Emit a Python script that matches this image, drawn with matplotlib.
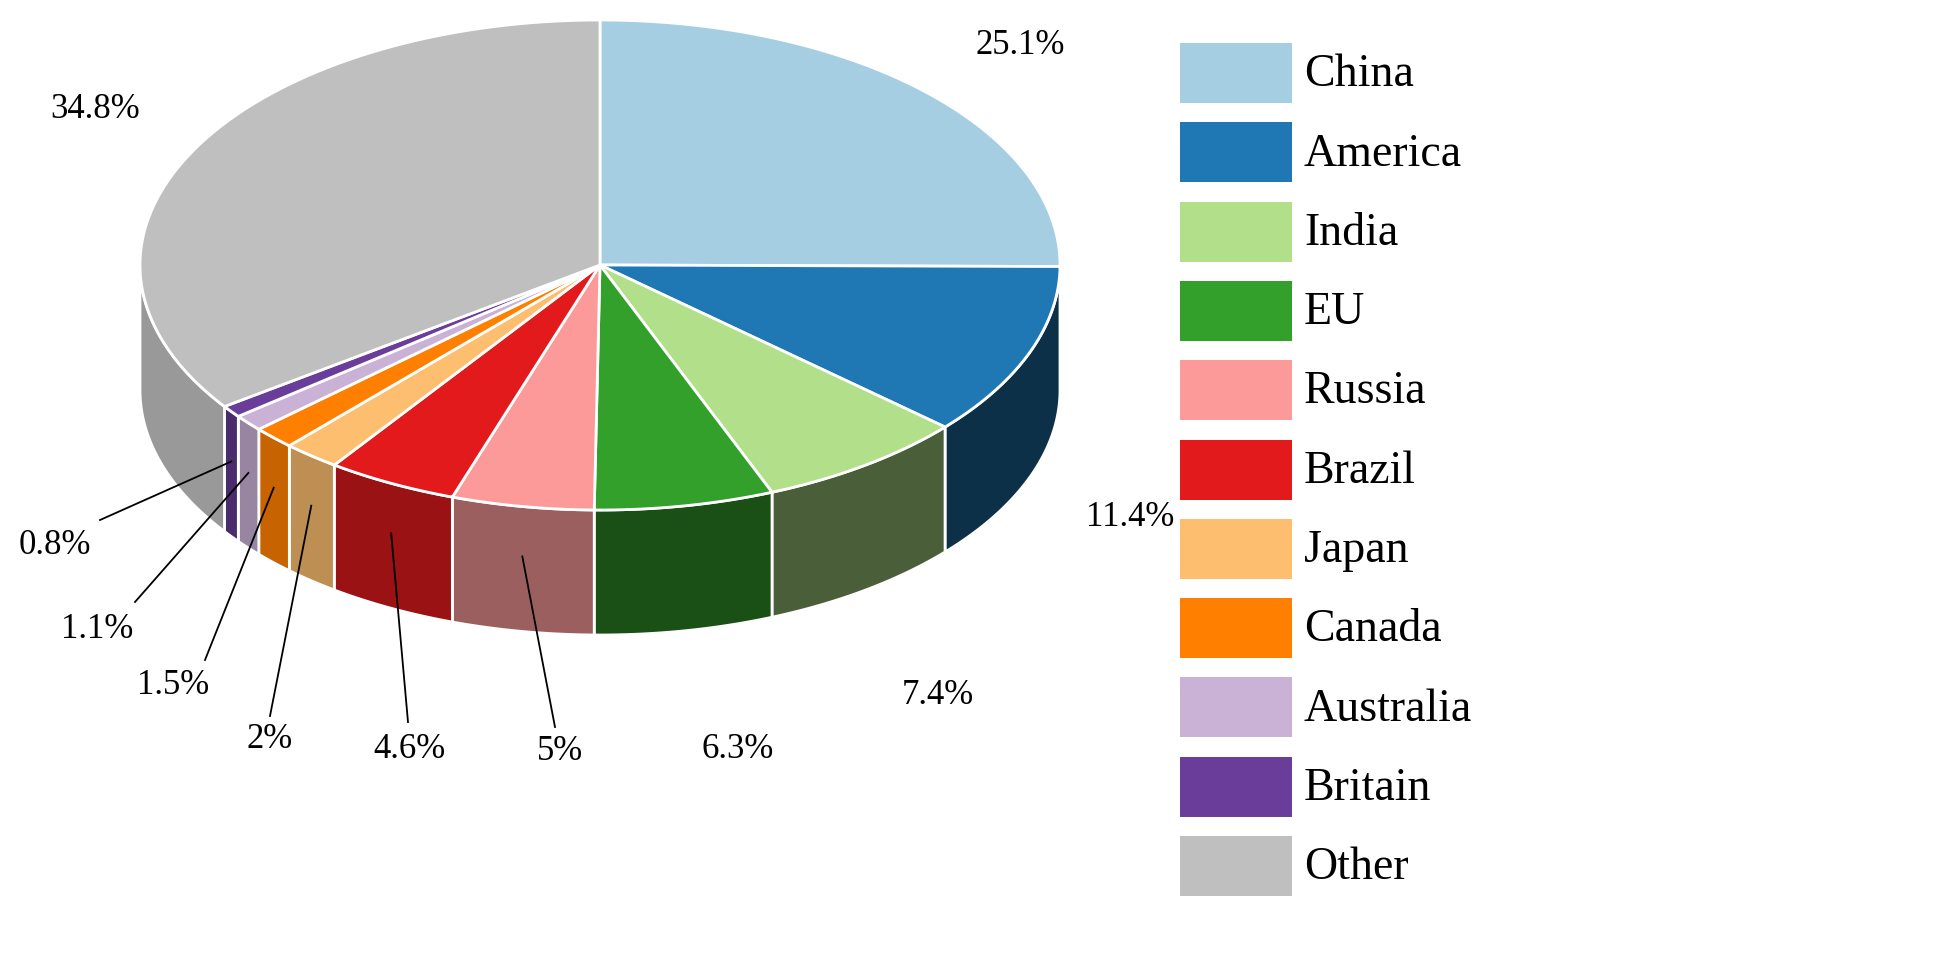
import numpy as np
import matplotlib.pyplot as plt
from matplotlib.patches import Polygon, Rectangle

countries = ['China', 'America', 'India', 'EU', 'Russia', 'Brazil', 'Japan',
             'Canada', 'Australia', 'Britain', 'Other']
shares = [25.1, 11.4, 7.4, 6.3, 5.0, 4.6, 2.0, 1.5, 1.1, 0.8, 34.8]
labels = ['25.1%', '11.4%', '7.4%', '6.3%', '5%', '4.6%', '2%', '1.5%', '1.1%', '0.8%', '34.8%']
colors = ['#a6cee3', '#1f78b4', '#b2df8a', '#33a02c', '#fb9a99', '#e31a1c',
          '#fdbf6f', '#ff7f00', '#cab2d6', '#6a3d9a', '#bfbfbf']
# how dark each side wall is
side_dark = [0.6, 0.4, 0.42, 0.5, 0.62, 0.68, 0.75, 0.78, 0.75, 0.7, 0.8]

# pie geometry in pixel coords
cx, cy, rx, ry, depth = 600, 265, 460, 245, 125

# label placement (text position, leader start or None)
label_pos = [(1020, 45, None), (1130, 518, None), (938, 695, None), (738, 750, None),
             (560, 752, (555, 727)), (410, 750, (408, 722)), (270, 740, (270, 716)),
             (173, 685, (205, 660)), (97, 629, (135, 602)), (55, 545, (100, 520)),
             (95, 110, None)]

plt.rcParams['font.family'] = ['Liberation Serif', 'DejaVu Serif']
fig = plt.figure(figsize=(19.58, 9.66), dpi=100)
ax = fig.add_axes([0, 0, 1, 1])
ax.set_xlim(0, 1958)
ax.set_ylim(966, 0)
ax.axis('off')


def pt(theta, dy=0):
    return cx + rx * np.cos(theta), cy - ry * np.sin(theta) + dy


def shade(c, f):
    r, g, b = plt.matplotlib.colors.to_rgb(c)
    return (r * f, g * f, b * f)


fracs = np.array(shares) / sum(shares)
starts = np.pi / 2 - 2 * np.pi * np.concatenate([[0], np.cumsum(fracs)[:-1]])
ends = starts - 2 * np.pi * fracs

# side walls (front half: theta in [-pi, 0])
for s, e, c, f in zip(starts, ends, colors, side_dark):
    for off in (0, -2 * np.pi, 2 * np.pi):
        lo, hi = max(e + off, -np.pi), min(s + off, 0)
        if lo < hi:
            t = np.linspace(lo, hi, 60)
            xs, ys = pt(t)
            top = np.column_stack([xs, ys])
            bot = np.column_stack([xs, ys + depth])[::-1]
            ax.add_patch(Polygon(np.vstack([top, bot]), closed=True,
                                 facecolor=shade(c, f), edgecolor='white', lw=2))

# top face
for s, e, c in zip(starts, ends, colors):
    t = np.linspace(s, e, 120)
    xs, ys = pt(t)
    poly = np.vstack([[cx, cy], np.column_stack([xs, ys])])
    ax.add_patch(Polygon(poly, closed=True, facecolor=c, edgecolor='white', lw=2))

# labels and leaders
for (lx, ly, lead), s, e, lab in zip(label_pos, starts, ends, labels):
    ax.text(lx, ly, lab, fontsize=25, ha='center', va='center')
    if lead is not None:
        ax_, ay_ = pt((s + e) / 2, depth * 0.4)
        ax.plot([lead[0], ax_], [lead[1], ay_], color='black', lw=1.3)

# legend
for i, (name, c) in enumerate(zip(countries, colors)):
    y = 43 + i * 79.3
    ax.add_patch(Rectangle((1180, y), 112, 60, facecolor=c, edgecolor='none'))
    ax.text(1304, y + 32, name, fontsize=33, va='center', ha='left')

fig.savefig('out.png', dpi=100)
